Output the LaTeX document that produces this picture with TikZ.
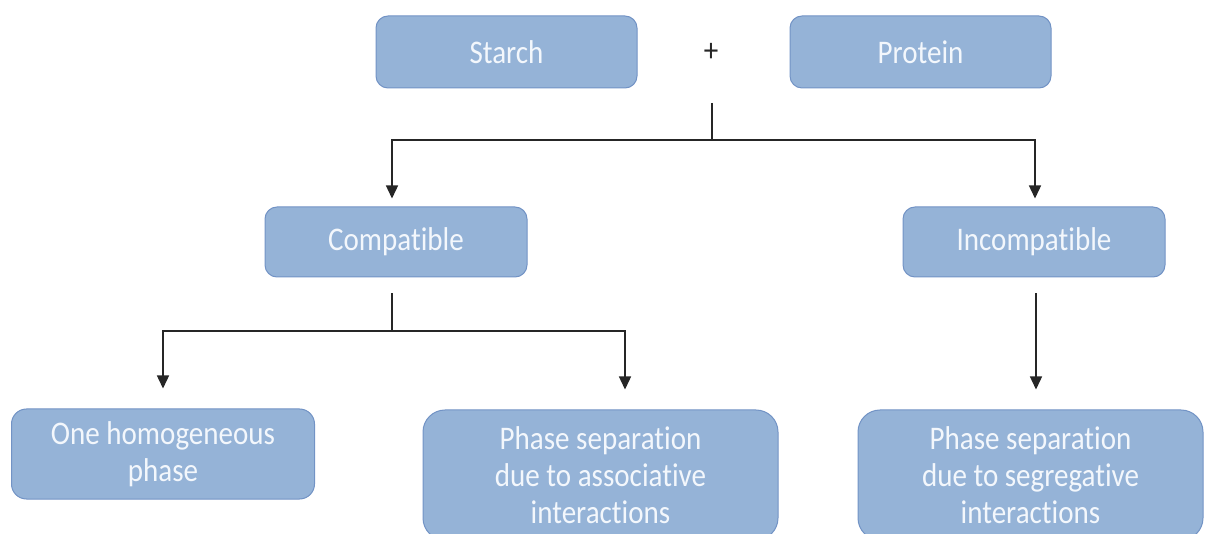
\documentclass[tikz,border=0pt]{standalone}
\usepackage{fontspec}
\setmainfont{Carlito}[FakeStretch=0.88,Ligatures=NoCommon]
\usepackage{tikz}
\usetikzlibrary{arrows.meta,positioning,calc}
\definecolor{boxfill}{HTML}{95B3D7}
\definecolor{boxedge}{HTML}{7293C5}
\definecolor{boxtext}{HTML}{F3F7FC}
\definecolor{linegray}{HTML}{262626}

\begin{document}
\begin{tikzpicture}[x=1pt,y=-1pt,
			blk/.style={draw=boxedge,line width=1pt,fill=boxfill,text=boxtext,rounded corners=12pt,inner sep=0pt,align=center,font=\fontsize{33}{37}\selectfont},
			arr/.style={-{Triangle[width=12pt,length=13pt]},draw=linegray,line width=1.4pt},
			link/.style={draw=linegray,line width=1.4pt}
			]
			\useasboundingbox (0,0) rectangle (1208,534);
			\clip (0,0) rectangle (1208,534);
			% mixture
			\node[blk,minimum width=261pt,minimum height=72pt] (starch) at (506.5,52) {Starch};
			\node[blk,minimum width=261pt,minimum height=72pt] (protein) [right=152pt of starch] {Protein};
			\node[font=\fontsize{33}{37}\selectfont,text=black!85,inner sep=0pt] (plus) at (711,52) {+};
			% compatibility
			\node[blk,minimum width=262pt,minimum height=70pt] (comp) at (396,242) {Compatible};
			\node[blk,minimum width=262pt,minimum height=70pt] (incomp) at (1034,242) {Incompatible};
			% outcomes
			\node[blk,minimum width=303pt,minimum height=90pt,rounded corners=15pt] (homog) at (163,454) {One homogeneous\\phase};
			\node[blk,minimum width=355pt,minimum height=130pt,rounded corners=22pt] (assoc) at (600.5,475) {Phase separation\\due to associative\\interactions};
			\node[blk,minimum width=345pt,minimum height=130pt,rounded corners=22pt] (segr) at (1030.5,475) {Phase separation\\due to segregative\\interactions};
			% connectors
			\coordinate (join) at (712,103);
			\coordinate (fork) at (712,140);
			\coordinate (split) at ($(comp.south)+(-4,16)$);
			\coordinate (bar) at (split |- 0,331);
			\draw[link] (join) -- (fork);
			\draw[arr] (fork) -| ($(comp.north)+(-4,-8)$);
			\draw[arr] (fork) -| ($(incomp.north)+(1,-8)$);
			\draw[link] (split) -- (bar);
			\draw[arr] (bar) -| ($(homog.north)+(0,-20)$);
			\draw[arr] (bar) -| ($(assoc.north)+(24.5,-20)$);
			\draw[arr] ($(incomp.south)+(2,16)$) -- ($(incomp.south |- segr.north)+(2,-20)$);
		\end{tikzpicture}
\end{document}
